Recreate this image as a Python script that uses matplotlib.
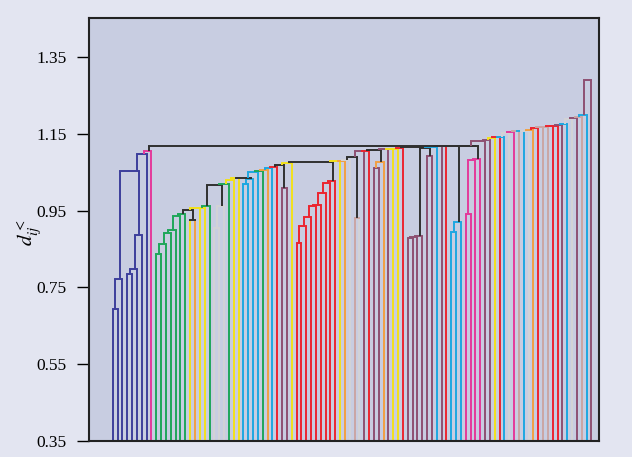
import matplotlib.pyplot as plt

plt.rcParams['font.family'] = 'Liberation Serif'
plt.rcParams['mathtext.fontset'] = 'stix'

# sector colours (one letter per sector)
palette = {'B': '#3d3f9c', 'P': '#e4399b', 'G': '#1fa65a', 'Y': '#f3e11b', 'O': '#f2a043',
           'L': '#d3d3d6', 'C': '#1ea7e1', 'R': '#ec2530', 'M': '#8e5072', 'T': '#cba5a4',
           'K': '#303030'}

# colour of every leaf, left to right
leaf_colors = list("BBBBBBBBP" "GGGGGGG" "YOYYG" "LLL" "GYY" "CCCC" "GOCRMMY" "RRRRRRRRR"
                   "YOLTL" "MRMMOMYYR" "MMMMMM" "CMR" "CCC" "PPPP"
                   "MMYRCLPTCLORTTRRMCLMTCM")

# merges: (name, left, right, height, link colour); ints are leaves
blue_links = [
    ('b1', 0, 1, 0.694, 'B'), ('b2', 'b1', 2, 0.772, 'B'),
    ('b3', 3, 4, 0.784, 'B'), ('b4', 'b3', 5, 0.797, 'B'), ('b5', 'b4', 6, 0.886, 'B'),
    ('b6', 'b2', 'b5', 1.053, 'B'), ('b7', 'b6', 7, 1.098, 'B'), ('b8', 'b7', 8, 1.106, 'P'),
]
green_links = [
    ('g1', 9, 10, 0.837, 'G'), ('g2', 'g1', 11, 0.864, 'G'), ('g3', 'g2', 12, 0.892, 'G'),
    ('g4', 'g3', 13, 0.899, 'G'), ('g5', 'g4', 14, 0.937, 'G'), ('g6', 'g5', 15, 0.942, 'G'),
    ('g7', 16, 17, 0.926, 'K'), ('g8', 'g6', 'g7', 0.951, 'K'),
    ('g9', 'g8', 18, 0.956, 'Y'), ('g10', 'g9', 19, 0.958, 'Y'), ('g11', 'g10', 20, 0.962, 'G'),
    ('g12', 21, 22, 0.904, 'L'), ('g13', 'g12', 23, 0.962, 'L'),
    ('g14', 'g11', 'g13', 1.017, 'K'), ('g15', 'g14', 24, 1.019, 'G'),
    ('g16', 'g15', 25, 1.030, 'Y'), ('g17', 'g16', 26, 1.036, 'Y'),
]
cyan_links = [
    ('c1', 27, 28, 1.019, 'C'), ('c2', 'c1', 29, 1.032, 'C'), ('c3', 'g17', 'c2', 1.036, 'K'),
    ('c4', 'c3', 30, 1.050, 'C'), ('c5', 'c4', 31, 1.052, 'G'), ('c6', 'c5', 32, 1.056, 'O'),
    ('c7', 'c6', 33, 1.060, 'C'), ('c8', 'c7', 34, 1.064, 'R'),
    ('c9', 35, 36, 1.010, 'M'), ('c10', 'c8', 'c9', 1.070, 'K'), ('c11', 'c10', 37, 1.073, 'Y'),
]
red_links = [
    ('r1', 38, 39, 0.866, 'R'), ('r2', 'r1', 40, 0.910, 'R'), ('r3', 'r2', 41, 0.934, 'R'),
    ('r4', 'r3', 42, 0.962, 'R'), ('r5', 'r4', 43, 0.965, 'R'), ('r6', 'r5', 44, 0.997, 'R'),
    ('r7', 'r6', 45, 1.021, 'R'), ('r8', 'r7', 46, 1.027, 'R'),
    ('r9', 'c11', 'r8', 1.077, 'K'), ('r10', 'r9', 47, 1.079, 'Y'), ('r11', 'r10', 48, 1.080, 'O'),
    ('r12', 'r11', 49, 1.081, 'L'), ('r13', 50, 51, 0.930, 'T'), ('r14', 'r12', 'r13', 1.090, 'K'),
    ('r15', 'r14', 52, 1.104, 'M'), ('r16', 'r15', 53, 1.106, 'R'),
]
maroon_links = [
    ('m1', 54, 55, 1.062, 'M'), ('m2', 'm1', 56, 1.076, 'O'), ('m3', 'r16', 'm2', 1.108, 'K'),
    ('m4', 'm3', 57, 1.110, 'M'), ('m5', 'm4', 58, 1.111, 'Y'), ('m6', 'm5', 59, 1.111, 'Y'),
    ('m7', 'm6', 60, 1.112, 'R'),
    ('m8', 61, 62, 0.878, 'M'), ('m9', 'm8', 63, 0.881, 'M'), ('m10', 'm9', 64, 0.883, 'M'),
    ('m11', 65, 66, 1.093, 'M'), ('m12', 'm10', 'm11', 1.114, 'K'), ('m13', 'm7', 'm12', 1.115, 'K'),
    ('m14', 'm13', 67, 1.116, 'C'), ('m15', 'm14', 68, 1.117, 'M'), ('m16', 'm15', 69, 1.118, 'R'),
]
top_links = [
    ('p1', 70, 71, 0.893, 'C'), ('p2', 'p1', 72, 0.921, 'C'),
    ('p3', 73, 74, 0.941, 'P'), ('p4', 'p3', 75, 1.082, 'P'), ('p5', 'p4', 76, 1.084, 'P'),
    ('p6', 'p2', 'p5', 1.117, 'K'), ('p7', 'm16', 'p6', 1.1185, 'K'), ('p8', 'b8', 'p7', 1.119, 'K'),
]
# leaves 77-99 join the whole tree one by one
stair_h = [1.132, 1.134, 1.138, 1.141, 1.142, 1.153, 1.155, 1.157, 1.157, 1.158, 1.159, 1.164,
           1.167, 1.168, 1.169, 1.170, 1.172, 1.175, 1.188, 1.192, 1.195, 1.198, 1.290]

stair_links = []
prev = 'p8'
for k, h in enumerate(stair_h):
    leaf = 77 + k
    stair_links.append(('s%d' % k, prev, leaf, h, leaf_colors[leaf]))
    prev = 's%d' % k

bottom = 0.35
fig = plt.figure(figsize=(6.32, 4.57), dpi=100, facecolor='#e3e5f1')
ax = fig.add_axes([0.141, 0.035, 0.806, 0.926])
ax.set_facecolor('#c8cde1')

pos = {}
height = {}
for links in [blue_links, green_links, cyan_links, red_links, maroon_links, top_links, stair_links]:
    for name, a, b, h, c in links:
        col = palette[c]
        xs = []
        for child in (a, b):
            if isinstance(child, int):
                x, y0, lc = child, bottom, palette[leaf_colors[child]]
            else:
                x, y0, lc = pos[child], height[child], col
            ax.plot([x, x], [y0, h], color=lc, lw=1.4, solid_capstyle='butt')
            xs.append(x)
        ax.plot(xs, [h, h], color=col, lw=1.4, solid_capstyle='projecting')
        pos[name] = xs[1] - 0.5
        height[name] = h

ax.set_xlim(-4.9, 100.45)
ax.set_ylim(0.35, 1.452)
ax.set_xticks([])
ax.set_yticks([0.35, 0.55, 0.75, 0.95, 1.15, 1.35])
ax.set_yticklabels(['0.35', '0.55', '0.75', '0.95', '1.15', '1.35'])
ax.tick_params(axis='y', direction='out', length=9, width=1, labelsize=12.5, pad=7)
for sp in ax.spines.values():
    sp.set_linewidth(1.5)
    sp.set_color('#222222')

fig.text(0.047, 0.49, r'$d^{<}_{ij}$', rotation=90, fontsize=15, ha='center', va='center')

plt.savefig('out.png', dpi=100, facecolor=fig.get_facecolor())
